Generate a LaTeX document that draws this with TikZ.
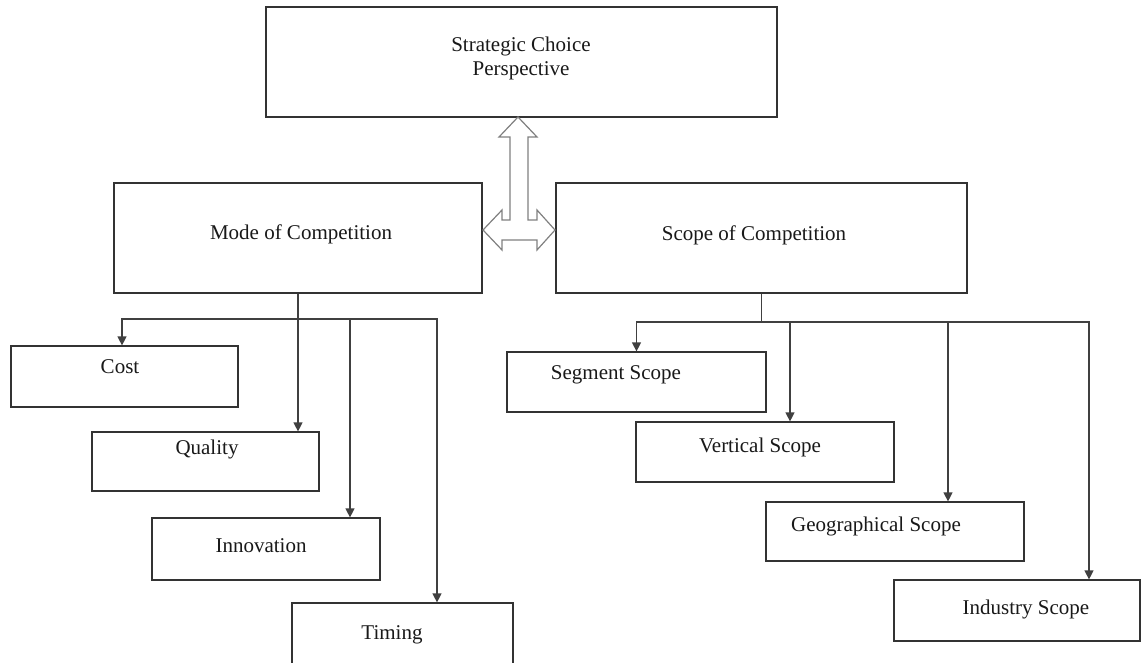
\documentclass[tikz,border=0pt]{standalone}
\usepackage{fontspec}
\setmainfont{Liberation Serif}
\usetikzlibrary{arrows.meta}
\begin{document}
\begin{tikzpicture}[x=1pt,y=-1pt,
  box/.style={draw=black!80, line width=1.2pt, rectangle, inner sep=0pt},
  lbl/.style={font=\fontsize{21}{24}\selectfont, inner sep=0pt, align=center,
              text=black!90, text height=0.8em, text depth=0.22em},
  link/.style={draw=black!75, line width=1.2pt},
  tip/.style={-{Triangle[length=9pt,width=9pt]}}]
\clip (0,0) rectangle (1145,663);
\fill[white] (0,0) rectangle (1145,663);

% top level
\node[box, minimum width=511pt, minimum height=110pt] (top) at (521.5,62) {};
\node[lbl] (toplbl) at (521,73) {Strategic Choice\\Perspective};

% second level
\node[box, minimum width=368pt, minimum height=110pt] (mode) at (298,238) {};
\node[lbl] (modelbl) at (301,237) {Mode of Competition};
\node[box, minimum width=411pt, minimum height=110pt] (scope) at (761.5,238) {};
\node[lbl] (scopelbl) at (754,238) {Scope of Competition};

% modes of competition
\node[box, minimum width=227pt, minimum height=61pt] (cost) at (124.5,376.5) {};
\node[lbl] at (120,371) {Cost};
\node[box, minimum width=227pt, minimum height=59pt] (quality) at (205.5,461.5) {};
\node[lbl] at (207,452) {Quality};
\node[box, minimum width=228pt, minimum height=62pt] (innov) at (266,549) {};
\node[lbl] at (261,550) {Innovation};
\node[box, minimum width=221pt, minimum height=77pt] (timing) at (402.5,641.5) {};
\node[lbl] at (392,637) {Timing};

% scopes of competition
\node[box, minimum width=259pt, minimum height=60pt] (segment) at (636.5,382) {};
\node[lbl] at (616,377) {Segment Scope};
\node[box, minimum width=258pt, minimum height=60pt] (vertical) at (765,452) {};
\node[lbl] at (760,450) {Vertical Scope};
\node[box, minimum width=258pt, minimum height=59pt] (geo) at (895,531.5) {};
\node[lbl] at (876,529) {Geographical Scope};
\node[box, minimum width=246pt, minimum height=61pt] (industry) at (1017,610.5) {};
\node[lbl] at (1026,612) {Industry Scope};

% hollow double arrow linking the three upper boxes
\draw[draw=black!50, line width=1.2pt, line join=miter, fill=white]
  (518,117) -- (537,137) -- (528,137) -- (528,220) -- (537,220) -- (537,210)
  -- (555,230) -- (537,250) -- (537,240) -- (502,240) -- (502,250)
  -- (483,230) -- (502,210) -- (502,220) -- (510,220) -- (510,137)
  -- (499,137) -- cycle;

% branches under Mode of Competition
\coordinate (lb) at (298,319);
\draw[link,tip] (mode.south) -- (mode.south |- quality.north);
\draw[link,tip] (lb) -| ([xshift=-2.5pt]cost.north);
\draw[link,tip] (lb) -| ([xshift=84pt]innov.north);
\draw[link,tip] (lb) -| ([xshift=34.5pt]timing.north);

% branches under Scope of Competition
\coordinate (rb) at (761.5,322);
\draw[link] (scope.south) -- (rb);
\draw[link,tip] (rb) -| (segment.north);
\draw[link,tip] (rb) -| ([xshift=25pt]vertical.north);
\draw[link,tip] (rb) -| ([xshift=53pt]geo.north);
\draw[link,tip] (rb) -| ([xshift=72pt]industry.north);
\end{tikzpicture}
\end{document}
